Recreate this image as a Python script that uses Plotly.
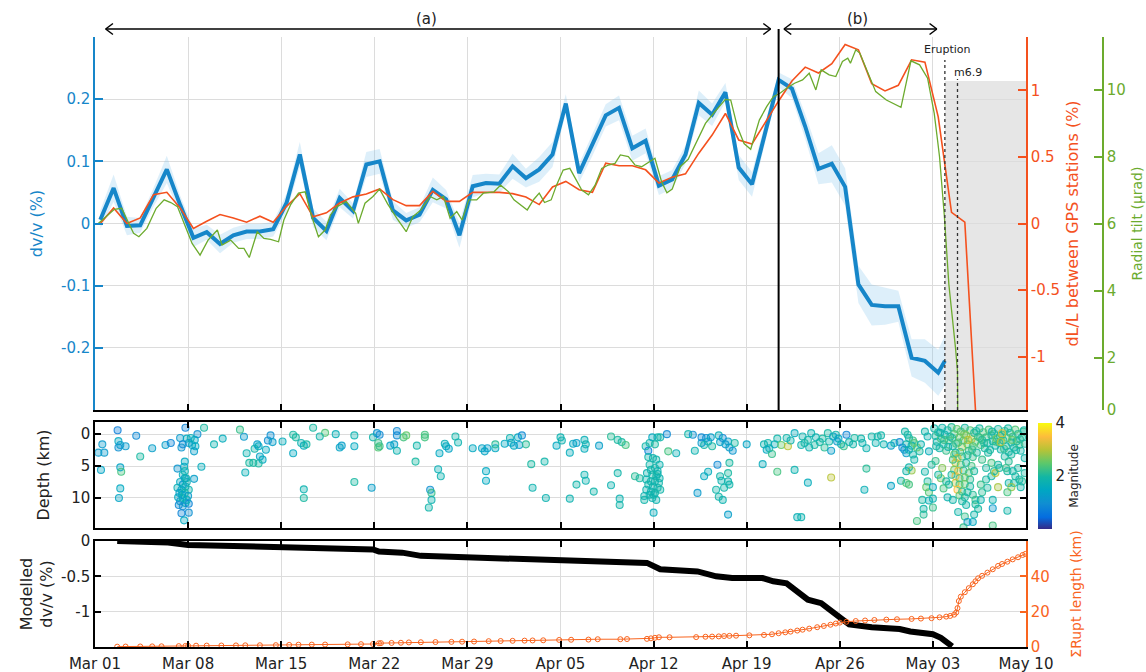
import plotly.graph_objects as go
import pandas as pd

START = pd.Timestamp("2018-03-01")

# ---------------- data (days since 2018-03-01) ----------------
dvv_days = [0.4 + i for i in range(64)] + [63.9]
dvv = [0.006, 0.057, -0.004, -0.003, 0.042, 0.087, 0.03, -0.023, -0.014, -0.033,
       -0.019, -0.013, -0.013, -0.009, 0.033, 0.111, 0.009, -0.012, 0.041, 0.02,
       0.095, 0.1, 0.021, 0.005, 0.014, 0.054, 0.039, -0.019, 0.06, 0.065,
       0.064, 0.092, 0.073, 0.087, 0.111, 0.193, 0.081, 0.127, 0.174, 0.186,
       0.121, 0.133, 0.061, 0.071, 0.111, 0.194, 0.175, 0.211, 0.09, 0.063,
       0.146, 0.231, 0.217, 0.156, 0.088, 0.096, 0.059, -0.098, -0.131, -0.133,
       -0.133, -0.216, -0.221, -0.24, -0.221]
dvv_err = [0.015, 0.022, 0.015, 0.012, 0.015, 0.022, 0.015, 0.015, 0.012, 0.015,
           0.012, 0.012, 0.012, 0.012, 0.015, 0.02, 0.015, 0.015, 0.015, 0.012,
           0.02, 0.02, 0.015, 0.012, 0.012, 0.02, 0.015, 0.02, 0.018, 0.015,
           0.015, 0.02, 0.015, 0.02, 0.02, 0.015, 0.015, 0.018, 0.018, 0.02,
           0.02, 0.02, 0.015, 0.015, 0.015, 0.02, 0.018, 0.015, 0.02, 0.02,
           0.015, 0.012, 0.015, 0.02, 0.025, 0.03, 0.03, 0.03, 0.033, 0.03,
           0.025, 0.03, 0.035, 0.037, 0.04]

gps_days = [0.4 + i for i in range(67)]
gps_dl = [0.0, 0.117, 0.0, 0.042, 0.216, 0.234, 0.117, -0.037, 0.017, 0.067,
          0.042, 0.01, 0.055, 0.01, 0.129, 0.224, 0.05, 0.08, 0.154, 0.2,
          0.222, 0.259, 0.179, 0.134, 0.134, 0.241, 0.166, 0.166, 0.234, 0.234,
          0.234, 0.224, 0.199, 0.142, 0.274, 0.316, 0.254, 0.234, 0.453, 0.433,
          0.433, 0.403, 0.304, 0.348, 0.373, 0.528, 0.664, 0.826, 0.627, 0.597,
          0.763, 0.92, 1.07, 1.174, 1.13, 1.2, 1.343, 1.304, 1.05, 0.995,
          1.037, 1.229, 1.211, 0.8, 0.084, 0.01, -1.75]

tilt_days = [0.2, 1.46, 2.0, 2.5, 2.9, 3.3, 3.9, 4.6, 5.2, 5.7, 6.2, 6.8, 7.3, 7.9,
             8.5, 9.2, 9.55, 10.2, 10.8, 11.2, 11.6, 12.2, 12.7, 13.2, 13.8, 14.2,
             14.7, 15.3, 15.8, 16.3, 16.8, 17.3, 17.7, 18.2, 18.9, 19.6, 19.8, 20.3,
             20.9, 21.4, 22.0, 22.7, 23.4, 23.9, 24.5, 25.2, 25.7, 26.2, 26.7, 27.2,
             27.6, 28.1, 28.7, 29.2, 30.0, 30.5, 31.1, 31.5, 32.0, 32.5, 33.0, 33.4,
             33.8, 34.3, 34.7, 35.2, 35.7, 36.1, 36.6, 37.1, 37.6, 38.1, 38.6, 39.1,
             39.5, 40.1, 40.6, 41.1, 41.6, 42.1, 42.6, 43.0, 43.4, 44.0, 44.6, 45.3,
             45.9, 46.6, 47.4, 47.8, 48.3, 48.8, 49.3, 49.95, 50.5, 51.0, 51.5, 52.0,
             52.6, 53.2, 53.7, 54.2, 54.6, 55.2, 55.7, 56.2, 56.6, 56.8, 57.2, 57.5,
             58.0, 58.7, 59.5, 60.2, 60.6, 61.35, 62.0, 62.6, 62.9, 63.1, 63.35, 63.5,
             63.85, 64.2, 64.7, 64.85, 64.87]
tilt = [6.0, 6.44, 6.47, 6.07, 5.72, 5.62, 5.87, 6.47, 6.72, 6.64, 6.52, 5.92, 5.42, 5.07,
        5.52, 5.82, 5.37, 5.52, 5.27, 5.27, 5.0, 5.77, 5.57, 5.54, 5.47, 6.12,
        6.57, 6.92, 6.96, 6.22, 5.62, 5.82, 6.27, 6.52, 6.67, 6.32, 6.02, 6.62,
        6.82, 7.04, 6.6, 6.17, 5.77, 6.22, 6.42, 6.82, 6.72, 6.82, 6.17, 6.37,
        6.12, 6.72, 6.72, 6.92, 6.96, 7.16, 6.96, 6.72, 6.57, 6.42, 6.74, 6.92,
        6.64, 6.72, 7.16, 7.61, 7.66, 7.36, 7.01, 6.87, 7.16, 7.66, 7.76, 7.81,
        8.06, 8.01, 7.76, 7.71, 7.83, 7.96, 7.26, 6.93, 7.04, 7.71, 7.93, 8.51,
        9.0, 9.35, 9.72, 9.7, 8.9, 8.4, 8.23, 9.1, 9.5, 9.8, 9.9, 10.05,
        10.2, 10.3, 10.5, 10.0, 10.6, 10.45, 10.4, 10.85, 10.95, 10.8, 11.2, 11.1,
        10.6, 9.95, 9.7, 9.55, 9.48, 10.87, 10.75, 10.35, 9.7, 9.3, 8.5, 8.0,
        6.3, 4.2, 2.3, 1.6, 0.0]

# earthquakes: (day, depth km, magnitude)
quakes = [
    (1.7, -0.6, 0.7), (3.1, 0.26, 0.9), (6.8, -1.0, 0.8), (8.2, -1.0, 2.0), (10.9, -0.7, 2.2),
    (16.4, -1.0, 2.0), (17.3, -0.2, 2.4), (0.55, 1.6, 1.2), (0.25, 2.9, 1.2), (0.7, 2.9, 1.2),
    (1.76, 1.1, 1.5), (1.76, 2.1, 1.0), (1.9, 1.7, 1.2), (2.3, 1.9, 1.2), (3.4, 3.5, 2.0),
    (4.3, 2.2, 1.3), (5.3, 1.7, 1.3), (5.7, 1.4, 0.8), (6.4, 0.6, 1.2), (6.5, 2.1, 1.1),
    (6.9, 0.7, 1.5), (6.6, 1.6, 0.9), (7.05, 1.4, 1.2), (7.3, 1.7, 1.5), (7.45, 2.7, 1.3),
    (7.55, 1.9, 1.5), (7.7, 0.0, 1.0), (7.2, 0.6, 1.7), (7.5, 0.9, 1.5), (0.45, 5.6, 1.4),
    (1.9, 5.2, 1.4), (1.97, 5.9, 2.3), (1.9, 8.5, 1.5), (1.8, 10.0, 1.4), (6.75, 4.3, 1.5),
    (6.7, 5.1, 1.5), (6.2, 5.4, 1.1), (8.0, 5.1, 1.6), (7.45, 7.0, 1.3),
    (6.6, 6.35, 1.6), (6.75, 6.9, 1.3), (6.4, 7.5, 1.5), (6.9, 7.5, 1.7), (6.6, 7.9, 1.2),
    (6.8, 8.2, 1.7), (6.2, 8.4, 1.7), (6.5, 8.7, 1.5), (7.05, 8.7, 1.8), (6.35, 9.2, 1.3),
    (6.75, 9.2, 1.9), (6.25, 9.9, 1.5), (6.6, 10.0, 1.8), (7.0, 9.7, 1.2), (6.4, 10.5, 1.2),
    (6.8, 10.8, 1.6), (6.3, 11.1, 0.9), (6.6, 11.3, 1.0), (7.05, 10.9, 0.8), (6.5, 12.4, 0.8),
    (7.05, 12.3, 1.0), (6.7, 13.5, 1.5), (6.85, 6.9, 1.8), (6.75, 5.8, 1.8), (6.55, 9.5, 1.4),
    (6.9, 10.3, 1.6), (8.95, 1.6, 1.8), (9.6, 0.7, 1.6), (11.2, 0.4, 1.2), (13.2, 0.2, 1.0),
    (13.0, 1.0, 1.0), (13.35, 1.25, 1.3), (12.2, 1.6, 1.3), (12.3, 1.9, 1.5), (12.0, 2.3, 1.9),
    (11.4, 3.0, 1.8), (12.85, 2.45, 1.5), (12.4, 3.5, 1.4), (12.6, 4.0, 1.5), (11.6, 4.5, 2.0),
    (11.9, 4.5, 2.0), (12.3, 4.6, 2.0), (11.3, 6.0, 1.7), (14.1, 1.15, 1.6), (14.9, 0.1, 2.0),
    (15.1, 0.5, 2.0), (14.9, 3.0, 1.5), (15.5, 1.4, 1.8), (15.7, 1.8, 1.6), (15.9, 1.6, 2.0),
    (16.9, 0.36, 1.9), (15.7, 8.65, 1.8), (15.7, 10.0, 2.0),
    (18.1, 0.0, 1.7), (19.5, 0.2, 1.8), (18.4, 2.1, 1.4), (18.55, 1.8, 1.3), (19.5, 1.9, 1.5),
    (20.9, 0.5, 1.9), (21.2, -0.15, 1.1), (21.4, 0.1, 0.9), (21.3, 1.4, 2.2), (21.3, 2.1, 2.4),
    (21.4, 1.9, 2.2), (22.7, -0.5, 0.9), (22.7, 0.2, 0.9), (23.2, 0.5, 2.3), (23.4, 0.2, 2.5),
    (22.2, 1.8, 1.4), (22.5, 1.6, 1.3), (22.7, 2.6, 1.8), (24.2, 1.8, 1.9), (24.8, 0.1, 2.3),
    (24.8, 0.5, 2.3), (24.1, 4.3, 2.0), (25.9, 3.0, 1.5), (26.3, 1.5, 1.7), (26.4, 1.9, 1.5),
    (26.6, 2.3, 1.4), (27.1, 0.36, 1.9), (27.3, 1.3, 1.8), (25.8, 5.5, 1.7), (26.0, 6.6, 1.8),
    (19.5, 7.5, 2.0), (20.8, 8.4, 1.3), (25.2, 8.7, 1.0), (25.3, 9.2, 2.2), (25.3, 10.3, 1.8),
    (25.1, 11.5, 1.9), (28.4, 2.2, 1.5), (29.1, 2.2, 1.4), (29.3, 2.7, 1.4), (29.5, 2.2, 1.3),
    (30.1, 2.2, 1.5), (30.1, 1.6, 2.1), (30.8, 1.5, 1.5), (31.2, 0.6, 1.8), (31.3, 1.35, 1.3),
    (31.5, 1.8, 1.5), (31.8, 0.5, 1.5), (32.1, 0.2, 0.9), (31.9, 1.7, 1.2), (32.4, 1.6, 2.1),
    (32.8, 4.7, 2.0), (33.8, 4.3, 1.9), (29.4, 5.8, 1.5), (29.4, 7.3, 1.5), (32.9, 8.4, 1.8),
    (33.9, 10.0, 1.8), (34.7, 1.8, 1.5), (35.0, 0.5, 1.8), (35.1, 1.0, 1.8),
    (35.7, 2.9, 1.6), (35.95, 1.5, 1.5), (36.2, 1.4, 1.3), (36.8, 0.9, 1.7), (36.9, 1.6, 1.8),
    (36.8, 2.3, 1.6), (37.9, 1.8, 1.3), (38.8, 0.36, 2.1), (39.3, 0.9, 2.0), (39.6, 1.25, 2.0),
    (39.9, 1.7, 2.3), (41.6, 2.6, 0.7), (41.4, 1.9, 1.9), (41.7, 1.4, 1.9), (41.9, 0.5, 1.5),
    (42.1, 1.6, 2.0), (42.3, 0.5, 1.9), (42.5, 0.5, 1.9), (43.0, 0.0, 0.9), (43.1, 2.7, 2.3),
    (43.7, 3.0, 1.7), (41.6, 3.6, 1.9), (41.95, 3.75, 1.8), (42.2, 4.0, 1.9), (42.45, 4.8, 1.8),
    (41.7, 4.8, 1.9), (42.1, 5.3, 1.9), (42.3, 5.8, 1.8), (41.5, 6.1, 1.8), (41.9, 6.35, 1.9),
    (42.2, 6.6, 2.0), (42.45, 6.9, 1.8), (41.45, 7.1, 1.8), (41.8, 7.4, 1.9), (42.1, 7.4, 1.8),
    (42.4, 7.65, 1.9), (41.6, 7.9, 1.9), (41.95, 8.2, 1.8), (42.3, 8.4, 1.9), (41.45, 8.7, 1.8),
    (42.5, 8.7, 1.9), (41.8, 9.0, 1.8), (42.1, 9.2, 1.9), (41.3, 9.7, 1.8), (41.9, 10.0, 1.8),
    (42.2, 10.3, 1.8), (41.3, 10.3, 1.9), (42.0, 9.5, 1.9), (41.7, 9.5, 1.8), (42.3, 6.25, 1.8),
    (41.8, 5.6, 1.9), (42.0, 12.3, 1.6), (40.6, 6.6, 2.1), (40.95, 6.9, 2.0), (39.3, 6.1, 1.9),
    (38.8, 8.0, 1.8), (37.5, 9.0, 1.9), (36.2, 7.9, 1.9), (36.8, 6.35, 1.8), (36.9, 7.3, 1.8),
    (35.7, 10.1, 1.8), (39.45, 10.1, 1.8), (39.45, 11.1, 1.9), (44.6, 0.0, 1.9), (44.95, 0.1, 1.0),
    (45.1, 2.6, 1.8), (45.6, 0.5, 0.9), (45.6, 1.4, 1.2), (45.95, 0.6, 1.0), (46.1, 1.15, 1.5),
    (46.3, 0.5, 1.3), (46.4, 1.9, 2.0), (46.9, 0.2, 1.7), (47.0, 1.25, 1.4), (47.2, 0.6, 0.9),
    (47.4, 1.6, 1.2), (47.6, 1.15, 1.3), (47.7, 2.1, 1.3), (47.95, 2.6, 1.1), (48.1, 1.4, 2.0),
    (45.8, 1.7, 1.9), (46.8, 4.8, 0.9), (47.7, 4.5, 2.0), (46.1, 5.9, 1.6), (45.8, 6.6, 1.5),
    (47.0, 6.6, 1.9), (47.6, 6.1, 2.0), (47.1, 7.3, 1.8), (47.6, 7.4, 1.8), (46.7, 8.7, 1.9),
    (47.3, 8.4, 1.9), (47.7, 7.9, 1.9), (45.3, 9.2, 1.2), (46.9, 9.8, 1.9), (47.2, 10.3, 1.8),
    (47.6, 12.6, 1.3), (49.0, 1.6, 1.4), (50.2, 4.7, 1.6), (51.3, 5.9, 2.3), (50.3, 1.6, 1.8),
    (50.6, 1.4, 1.9), (50.5, 2.45, 1.5), (50.7, 2.2, 1.7), (50.9, 3.1, 2.2), (51.1, 1.6, 1.6),
    (51.3, 0.7, 1.9), (51.6, 1.7, 2.5), (52.0, 0.6, 1.9), (52.1, 1.9, 3.0), (52.3, 1.0, 1.8),
    (52.6, -0.15, 1.6), (52.6, 5.6, 1.8), (52.8, 13.0, 1.7),
    (53.2, 0.36, 1.8), (53.35, 1.4, 2.0), (53.6, 0.9, 1.9), (53.85, -0.15, 1.8), (54.1, 1.7, 2.0),
    (54.2, 0.5, 1.8), (54.5, 1.25, 1.9), (54.7, 0.7, 2.0), (54.85, 2.1, 2.1), (55.1, -0.15, 2.0),
    (55.2, 1.15, 1.9), (55.35, 2.6, 1.3), (55.5, 0.36, 1.3), (55.7, 0.1, 1.9), (55.8, 1.15, 1.2),
    (55.9, 0.7, 1.5), (56.1, 1.6, 1.8), (56.3, 1.9, 2.2), (56.5, 0.1, 0.8), (56.7, 1.25, 1.8),
    (57.0, 1.6, 1.9), (57.1, 0.6, 2.0), (57.6, 0.7, 1.9), (57.7, 1.4, 1.8), (58.0, 2.2, 1.8),
    (58.4, 0.36, 1.9), (58.7, 1.4, 1.8), (58.85, 0.36, 1.9), (59.1, 0.2, 1.9), (59.3, 1.6, 1.8),
    (59.85, 1.8, 1.3), (60.1, 1.4, 1.8), (60.5, 1.25, 0.9), (60.7, 2.1, 1.0), (53.7, 2.1, 1.8),
    (53.1, 1.7, 1.8), (55.35, 6.8, 3.0), (53.6, 7.6, 1.6), (58.0, 5.4, 2.1), (57.85, 8.7, 1.7),
    (59.85, 8.1, 1.4), (60.6, 7.3, 1.9), (61.0, 7.65, 2.4), (61.2, 7.9, 2.3), (53.1, 13.0, 1.8),
    (60.9, -0.4, 1.9), (61.1, 0.1, 2.0), (61.2, 0.6, 1.9), (61.5, 1.0, 2.2), (61.0, 1.6, 1.9),
    (61.4, 1.8, 1.8), (61.6, 1.4, 2.4), (61.8, 2.1, 2.5), (60.85, 2.45, 1.1), (61.0, 3.0, 1.3),
    (61.2, 2.45, 1.8), (61.5, 3.2, 1.9), (61.6, 4.0, 1.9), (62.0, 2.7, 2.0), (62.1, 1.6, 1.8),
    (62.4, -0.4, 1.9), (62.6, 0.36, 1.8), (62.7, 2.7, 1.6), (61.2, 5.2, 1.9), (61.4, 5.7, 2.8),
    (61.0, 5.8, 1.9), (62.4, 5.9, 1.9), (62.6, 7.4, 2.0), (62.5, 8.3, 2.5), (62.7, 9.1, 2.4),
    (62.2, 10.3, 2.0), (62.7, 10.4, 1.7), (62.3, 11.7, 1.9), (62.3, 12.6, 2.1), (62.9, 4.8, 2.0),
    (63.0, 8.3, 1.6), (63.0, 10.1, 1.8), (63.0, 11.5, 2.2), (61.8, 13.6, 2.3),
    (63.1, -0.9, 1.9), (63.2, 0.3, 2.0), (63.3, 1.2, 1.8), (63.4, -0.3, 2.1), (63.5, 2.2, 1.9),
    (63.6, 0.7, 2.3), (63.7, -1.0, 1.9), (63.8, 1.6, 2.0), (63.9, 0.1, 1.8), (64.0, 2.6, 2.2),
    (64.1, -0.6, 1.9), (64.2, 1.0, 2.4), (64.3, 0.4, 2.0), (64.4, -1.1, 2.1), (64.5, 1.9, 1.9),
    (64.6, 0.0, 2.3), (64.7, 2.9, 2.0), (64.8, -0.8, 2.5), (64.9, 1.3, 2.2), (65.0, 0.5, 2.6),
    (65.1, -0.4, 2.4), (65.2, 2.0, 2.8), (65.3, 1.0, 2.3), (65.4, -1.0, 2.0), (65.5, 0.2, 2.7),
    (65.6, 1.6, 2.5), (65.7, 2.6, 2.2), (65.8, -0.6, 2.4), (65.9, 0.8, 2.9), (66.0, 1.9, 2.3),
    (66.1, -0.2, 2.1), (66.2, 1.2, 2.5), (66.3, 2.9, 2.0), (66.4, 0.4, 2.2), (66.5, -0.9, 2.0),
    (66.6, 1.7, 2.3), (66.7, 0.9, 2.1), (66.8, -0.3, 2.4), (66.9, 2.2, 2.0), (67.0, 0.5, 2.2),
    (67.1, 1.4, 1.9), (67.2, -0.7, 2.3), (67.3, 2.5, 2.0), (67.4, 0.2, 2.1), (67.5, 1.1, 2.0),
    (67.6, -0.1, 2.2), (67.7, 1.8, 1.9), (67.8, 0.7, 2.6), (67.9, -0.8, 2.0), (68.0, 1.4, 2.1),
    (68.1, 2.4, 1.9), (68.2, 0.1, 2.3), (68.3, 1.0, 2.0), (68.4, -0.5, 2.1), (68.5, 1.9, 2.0),
    (68.6, 0.6, 2.5), (68.7, 2.8, 1.9), (68.8, -0.2, 2.1), (68.9, 1.3, 2.0), (69.0, 0.4, 2.2),
    (69.1, 2.1, 1.9), (69.2, -0.7, 2.4), (69.3, 1.1, 2.0), (69.4, 0.0, 2.1), (69.5, 1.7, 2.3),
    (69.6, 2.6, 1.9), (69.7, 0.5, 2.0), (69.8, -0.4, 2.2), (69.9, 1.5, 2.0),
    (63.25, 1.9, 2.0), (63.55, -0.2, 1.8), (63.85, 0.9, 2.2), (64.15, 2.0, 1.9), (64.45, 0.6, 2.1),
    (64.75, 1.5, 2.3), (65.05, 2.8, 2.2), (65.35, 0.0, 2.6), (65.65, 0.9, 3.0), (65.95, 2.4, 2.2),
    (66.25, -0.5, 2.0), (66.55, 0.6, 2.2), (66.85, 1.4, 2.1), (67.15, 2.9, 2.0), (67.45, -0.4, 1.9),
    (67.75, 1.2, 2.3), (68.05, 0.3, 2.0), (68.35, 2.3, 2.2), (68.65, -0.9, 2.0), (68.95, 0.9, 2.5),
    (69.25, 2.5, 2.0), (69.55, 0.8, 2.1), (69.85, -0.6, 1.9), (68.2, -0.15, 3.2), (68.1, 1.25, 3.0),
    (64.6, 3.2, 2.5), (64.85, 3.75, 3.2), (65.2, 3.5, 2.3), (65.6, 3.3, 2.0), (66.0, 3.6, 2.2),
    (64.7, 4.5, 3.0), (65.1, 4.8, 2.4), (65.5, 4.5, 2.0), (65.9, 5.0, 2.3), (64.6, 5.6, 2.6),
    (64.9, 5.8, 3.3), (65.3, 5.7, 2.1), (65.7, 6.1, 2.4), (66.1, 5.8, 2.0), (64.7, 6.6, 3.4),
    (65.0, 6.9, 2.2), (65.4, 6.8, 2.6), (65.8, 7.1, 2.1), (64.7, 7.65, 3.1), (65.0, 7.9, 2.3),
    (65.4, 7.8, 2.5), (65.8, 8.2, 2.0), (64.85, 8.7, 3.5), (65.2, 9.0, 2.2), (65.6, 9.1, 2.0),
    (65.0, 9.6, 2.4), (65.4, 9.9, 2.0), (66.0, 9.5, 2.1), (66.2, 10.3, 2.2), (64.5, 4.0, 2.2),
    (64.4, 6.35, 2.0), (64.2, 7.9, 2.0), (64.1, 9.9, 1.8), (64.5, 10.3, 1.9), (65.2, 10.5, 2.0),
    (64.9, 12.2, 1.9), (65.5, 11.1, 1.9), (65.4, 12.9, 2.2), (65.6, 13.75, 1.2), (66.0, 13.75, 1.5),
    (65.3, 14.6, 2.2), (66.1, 12.6, 1.9), (66.2, 11.0, 2.0), (66.6, 10.3, 1.8), (63.7, 5.3, 2.7),
    (63.6, 6.9, 2.6), (63.4, 6.35, 2.0), (63.2, 4.2, 2.2), (64.0, 7.4, 2.0), (63.8, 8.5, 2.3),
    (66.7, 4.0, 2.2), (67.0, 5.3, 2.0), (67.4, 4.5, 2.3), (67.6, 5.8, 2.1), (67.0, 7.1, 2.0),
    (67.4, 6.6, 1.9), (66.6, 7.9, 2.2), (67.1, 8.4, 2.0), (66.7, 9.1, 2.1), (67.7, 6.1, 3.0),
    (68.0, 5.3, 2.0), (67.5, 10.3, 1.8), (67.5, 11.6, 1.2), (68.6, 12.0, 1.9), (67.5, 14.3, 2.3),
    (66.4, 11.7, 2.0), (68.4, 3.5, 2.0), (68.7, 4.3, 2.1), (68.9, 3.2, 2.0), (68.5, 5.3, 2.2),
    (68.6, 5.8, 2.0), (69.0, 5.8, 1.9), (69.2, 6.6, 2.0), (69.5, 7.1, 1.9), (69.7, 7.4, 2.1),
    (68.7, 7.65, 1.9), (69.1, 7.65, 2.0), (69.9, 6.1, 2.0), (69.9, 3.75, 1.9), (68.9, 8.3, 2.8),
    (68.6, 9.1, 2.3), (69.4, 5.3, 2.0), (69.6, 8.3, 1.9), (67.9, 4.8, 2.0), (67.9, 8.3, 2.9),
]

model_days = [1.67, 3.0, 5.5, 7.0, 10.1, 14.0, 17.3, 20.9, 21.35, 23.1, 24.5, 28.0, 31.4,
              34.9, 38.5, 41.5, 42.5, 43.9, 45.3, 46.7, 47.9, 50.2, 51.0, 52.0, 52.8,
              53.6, 54.6, 55.3, 56.2, 56.7, 58.4, 60.5, 61.3, 63.0, 63.6, 64.45]
model_dvv = [0.0, -0.005, -0.02, -0.056, -0.07, -0.08, -0.1, -0.12, -0.15, -0.165, -0.21,
             -0.23, -0.27, -0.285, -0.29, -0.31, -0.4, -0.41, -0.43, -0.5, -0.525, -0.525,
             -0.57, -0.6, -0.71, -0.83, -0.88, -0.97, -1.11, -1.18, -1.22, -1.245, -1.28,
             -1.32, -1.37, -1.49]

rupt_days = [1.67, 2.3, 3.4, 4.3, 5.0, 6.3, 6.8, 7.0, 7.6, 8.4, 9.5, 10.6, 11.3, 12.4, 13.6,
             14.6, 15.3, 16.3, 17.3, 19.0, 20.0, 20.9, 21.35, 21.5, 22.3, 23.0, 23.6, 24.5,
             25.6, 26.8, 27.6, 28.5, 29.6, 30.5, 31.4, 32.3, 32.9, 33.7, 34.9, 35.8, 37.1,
             37.8, 39.5, 40.0, 41.5, 41.8, 42.1, 42.4, 43.2, 45.2, 45.9, 46.4, 46.9, 47.3,
             47.7, 48.2, 49.2, 50.3, 50.9, 51.4, 51.9, 52.3, 52.8, 53.2, 53.7, 54.3, 54.8,
             55.3, 55.7, 56.0, 56.5, 57.2, 57.9, 58.6, 59.5, 60.3, 61.4, 62.1, 62.9, 63.5,
             64.0, 64.3, 64.6, 64.75, 64.85, 64.95, 65.1, 65.4, 65.7, 66.0, 66.2, 66.4, 66.7,
             67.1, 67.5, 67.9, 68.2, 68.6, 69.0, 69.4, 69.75, 69.95]
rupt_len = [0.2, 0.25, 0.3, 0.35, 0.4, 0.5, 0.6, 0.7, 0.75, 0.8, 0.85, 0.9, 0.95, 1.0, 1.05,
            1.2, 1.3, 1.35, 1.4, 1.5, 1.6, 1.7, 2.1, 2.2, 2.3, 2.4, 2.6, 2.7,
            2.8, 2.9, 3.0, 3.1, 3.3, 3.4, 3.5, 3.6, 3.7, 3.8, 4.0, 4.1, 4.2,
            4.4, 4.4, 4.5, 4.6, 4.9, 5.2, 5.5, 5.5, 5.6, 5.8, 5.9, 6.0, 6.2,
            6.3, 6.4, 6.6, 6.8, 7.2, 7.8, 8.3, 8.7, 9.3, 9.8, 10.4, 11.2, 11.9,
            12.6, 13.3, 13.8, 14.3, 14.7, 15.0, 15.3, 15.5, 15.7, 15.9, 16.1, 16.3, 16.8,
            17.2, 17.6, 18.3, 19.5, 22.0, 26.0, 28.5, 31.0, 33.3, 35.5, 37.2, 38.9, 40.3,
            42.1, 44.0, 45.9, 47.0, 48.3, 49.6, 50.8, 52.1, 52.7]

dvv_ticks = [-0.2, -0.1, 0, 0.1, 0.2]
dvv_ticktext = ["-0.2", "-0.1", "0", "0.1", "0.2"]
gps_ticks = [-1, -0.5, 0, 0.5, 1]
gps_ticktext = ["-1", "-0.5", "0", "0.5", "1"]
tilt_ticks = [0.45, 2, 4, 6, 8, 10]
tilt_ticktext = ["0", "2", "4", "6", "8", "10"]

# event markers (days)
split_day = 51.4
eruption_day = 63.9
m69_day = 64.85
arrow_a = (0.8, 50.8)
arrow_b = (51.8, 63.3)

# ---------------- helpers ----------------
def D(days):
    if isinstance(days, (list, tuple)):
        return [START + pd.Timedelta(days=float(d)) for d in days]
    return START + pd.Timedelta(days=float(days))

W, H = 1146, 672
def px(y):  # pixel-from-top -> paper
    return 1 - y / H

XD = [95 / W, 1026 / W]
TOP = [px(410), px(37)]
MID = [px(528), px(422)]
BOT = [px(647), px(541)]

BLUE = "#1686c9"
RED = "#f4511e"
GREEN = "#6cab2e"
ORANGE = "#f9641e"
GRID = "#dcdcdc"
FONT = "DejaVu Sans"

parula = [
    [0.0, "#352a87"], [0.11, "#046de0"], [0.24, "#108ed2"], [0.37, "#00a7c2"],
    [0.49, "#12b6a5"], [0.62, "#5cc86b"], [0.75, "#b9c336"], [0.87, "#fcbc3c"],
    [1.0, "#f9fb0e"],
]

fig = go.Figure()

# ---- top panel ----
upper = [v + e for v, e in zip(dvv, dvv_err)]
lower = [v - e for v, e in zip(dvv, dvv_err)]
fig.add_trace(go.Scatter(x=D(dvv_days), y=lower, mode="lines", line=dict(width=0),
                         showlegend=False, hoverinfo="skip", xaxis="x", yaxis="y"))
fig.add_trace(go.Scatter(x=D(dvv_days), y=upper, mode="lines", line=dict(width=0),
                         fill="tonexty", fillcolor="rgba(120,190,235,0.25)",
                         showlegend=False, hoverinfo="skip", xaxis="x", yaxis="y"))
fig.add_trace(go.Scatter(x=D(dvv_days), y=dvv, mode="lines", line=dict(color=BLUE, width=4),
                         showlegend=False, xaxis="x", yaxis="y"))
fig.add_trace(go.Scatter(x=D(gps_days), y=gps_dl, mode="lines", line=dict(color=RED, width=1.6),
                         showlegend=False, xaxis="x", yaxis="y2"))
fig.add_trace(go.Scatter(x=D(tilt_days), y=tilt, mode="lines", line=dict(color=GREEN, width=1.3),
                         showlegend=False, xaxis="x", yaxis="y3"))

# ---- middle panel ----
q_day = [q[0] for q in quakes]
q_dep = [q[1] for q in quakes]
q_mag = [q[2] for q in quakes]
fig.add_trace(go.Scatter(
    x=D(q_day), y=q_dep, mode="markers", showlegend=False, xaxis="x2", yaxis="y4",
    hoverinfo="skip",
    marker=dict(size=7, color=q_mag, colorscale=parula, cmin=0, cmax=4, opacity=0.35,
                line=dict(width=0))))
fig.add_trace(go.Scatter(
    x=D(q_day), y=q_dep, mode="markers", showlegend=False, xaxis="x2", yaxis="y4",
    marker=dict(size=7, symbol="circle-open", color=q_mag, colorscale=parula, cmin=0, cmax=4,
                opacity=0.85, line=dict(width=1.1),
                showscale=True,
                colorbar=dict(x=1038 / W, xanchor="left", y=px(476), yanchor="middle",
                              len=106, lenmode="pixels", thickness=14, thicknessmode="pixels",
                              outlinewidth=0, tickvals=[2, 4], ticks="", xpad=0, ypad=0,
                              tickfont=dict(size=15, color="#222", family=FONT),
                              title=dict(text="Magnitude", side="right",
                                         font=dict(size=12, color="#222", family=FONT))))))

# ---- bottom panel ----
fig.add_trace(go.Scatter(x=D(rupt_days), y=rupt_len, mode="lines+markers", showlegend=False,
                         line=dict(color=ORANGE, width=1),
                         marker=dict(symbol="circle-open", size=5, color=ORANGE, line=dict(width=1)),
                         xaxis="x3", yaxis="y6"))
fig.add_trace(go.Scatter(x=D(model_days), y=model_dvv, mode="lines", showlegend=False,
                         line=dict(color="black", width=6), xaxis="x3", yaxis="y5"))

xrange = [D(0), D(70)]
xcommon = dict(range=xrange, domain=XD, dtick=7 * 86400000, tick0=D(0), tickformat="%b %d",
               showgrid=True, gridcolor=GRID, gridwidth=1, ticks="inside", ticklen=6,
               tickcolor="black", tickwidth=1.5, showline=True, linecolor="black", linewidth=1.5,
               zeroline=False, automargin=False, tickfont=dict(size=15, color="#222", family=FONT))

fig.update_layout(
    template="none",
    width=W, height=H, margin=dict(l=0, r=0, t=0, b=0, autoexpand=False), plot_bgcolor="white",
    paper_bgcolor="white", font=dict(family=FONT, size=15, color="#222"),
    xaxis=dict(xcommon, anchor="y", showticklabels=False, mirror=False),
    xaxis2=dict(xcommon, anchor="y4", showticklabels=False, mirror="ticks"),
    xaxis3=dict(xcommon, anchor="y5", showticklabels=True, mirror="ticks", ticklabelstandoff=2),
    yaxis=dict(domain=TOP, range=[-0.3, 0.3], tickvals=dvv_ticks, ticktext=dvv_ticktext,
               showgrid=True, gridcolor=GRID, zeroline=False, ticks="inside", ticklen=8,
               tickcolor=BLUE, tickwidth=1.5, showline=True, linecolor=BLUE, linewidth=1.5,
               tickfont=dict(size=15, color=BLUE), anchor="x", automargin=False,
               title=dict(text="dv/v (%)", font=dict(size=16, color=BLUE), standoff=14)),
    yaxis2=dict(overlaying="y", side="right", anchor="x", range=[-1.4, 1.4], tickvals=gps_ticks,
                ticktext=gps_ticktext, showgrid=False, zeroline=False, ticks="inside", ticklen=8,
                tickcolor=RED, tickwidth=1.5, showline=True, linecolor=RED, linewidth=1.5,
                tickfont=dict(size=15, color=RED), automargin=False,
                title=dict(text="dL/L between GPS stations (%)", font=dict(size=16, color=RED),
                           standoff=8)),
    yaxis3=dict(overlaying="y", side="right", anchor="free", position=1103 / W, range=[0.45, 11.58],
                tickvals=tilt_ticks, ticktext=tilt_ticktext, showgrid=False, zeroline=False,
                ticks="inside", ticklen=8, tickcolor=GREEN, tickwidth=1.5, showline=True,
                linecolor=GREEN, linewidth=1.5, tickfont=dict(size=15, color=GREEN), automargin=False,
                title=dict(text="Radial tilt (µrad)", font=dict(size=14, color=GREEN), standoff=6)),
    yaxis4=dict(domain=MID, range=[14.7, -1.9], tickvals=[0, 5, 10], showgrid=True, gridcolor=GRID,
                zeroline=False, ticks="inside", ticklen=6, tickcolor="black", tickwidth=1.5,
                showline=True, linecolor="black", linewidth=1.5, mirror="ticks", anchor="x2",
                tickfont=dict(size=15, color="#222"), automargin=False,
                title=dict(text="Depth (km)", font=dict(size=16, color="#222"), standoff=18)),
    yaxis5=dict(domain=BOT, range=[-1.5, 0], tickvals=[-1, -0.5, 0], ticktext=["-1", "-0.5", "0"],
                showgrid=True, gridcolor=GRID, zeroline=False, ticks="inside", ticklen=6,
                tickcolor="black", tickwidth=1.5, showline=True, linecolor="black", linewidth=1.5,
                anchor="x3", tickfont=dict(size=15, color="#222"), automargin=False,
                title=dict(text="Modelled<br>dv/v (%)", font=dict(size=16, color="#222"), standoff=4)),
    yaxis6=dict(overlaying="y5", side="right", anchor="x3", range=[0, 60], tickvals=[0, 20, 40],
                showgrid=False, zeroline=False, ticks="inside", ticklen=6, tickcolor=ORANGE,
                tickwidth=1.5, showline=True, linecolor=ORANGE, linewidth=1.5,
                tickfont=dict(size=15, color=ORANGE), automargin=False,
                title=dict(text="ΣRupt length (km)", font=dict(size=14, color=ORANGE), standoff=22)),
)

shapes = []
# grey post-eruption region
shapes.append(dict(type="rect", xref="x", yref="paper", x0=D(eruption_day), x1=D(70),
                   y0=px(410), y1=px(81), fillcolor="#e6e6e6", line=dict(width=0), layer="between"))
# solid split line
shapes.append(dict(type="line", xref="x", yref="paper", x0=D(split_day), x1=D(split_day),
                   y0=px(410), y1=px(29), line=dict(color="black", width=2)))
# dashed event lines
shapes.append(dict(type="line", xref="x", yref="paper", x0=D(eruption_day), x1=D(eruption_day),
                   y0=px(410), y1=px(60), line=dict(color="#333", width=1.3, dash="3px,3px")))
shapes.append(dict(type="line", xref="x", yref="paper", x0=D(m69_day), x1=D(m69_day),
                   y0=px(410), y1=px(79), line=dict(color="#333", width=1.3, dash="3px,3px")))

# double arrows with open chevron heads
AY = px(29)
dx, dy = 0.55, 5.5 / H
for a0, a1 in (arrow_a, arrow_b):
    shapes.append(dict(type="line", xref="x", yref="paper", x0=D(a0), x1=D(a1), y0=AY, y1=AY,
                       line=dict(color="black", width=1.5)))
    for tip, sgn in ((a0, 1), (a1, -1)):
        for s in (1, -1):
            shapes.append(dict(type="line", xref="x", yref="paper", x0=D(tip), x1=D(tip + sgn * dx),
                               y0=AY, y1=AY + s * dy, line=dict(color="black", width=1.5)))
fig.update_layout(shapes=shapes)

ann = [
    dict(x=D(24.9), y=px(19), text="(a)", font=dict(size=15, color="#222")),
    dict(x=D(57.3), y=px(19), text="(b)", font=dict(size=15, color="#222")),
    dict(x=D(64.1), y=px(50), text="Eruption", font=dict(size=11, color="#222")),
    dict(x=D(65.65), y=px(73), text="m6.9", font=dict(size=11, color="#222")),
]
for a in ann:
    a.update(xref="x", yref="paper", showarrow=False, xanchor="center", yanchor="middle")
fig.update_layout(annotations=ann)

fig.write_html("out.html", config={"displayModeBar": False},
               post_script="document.body.style.margin='0';")
